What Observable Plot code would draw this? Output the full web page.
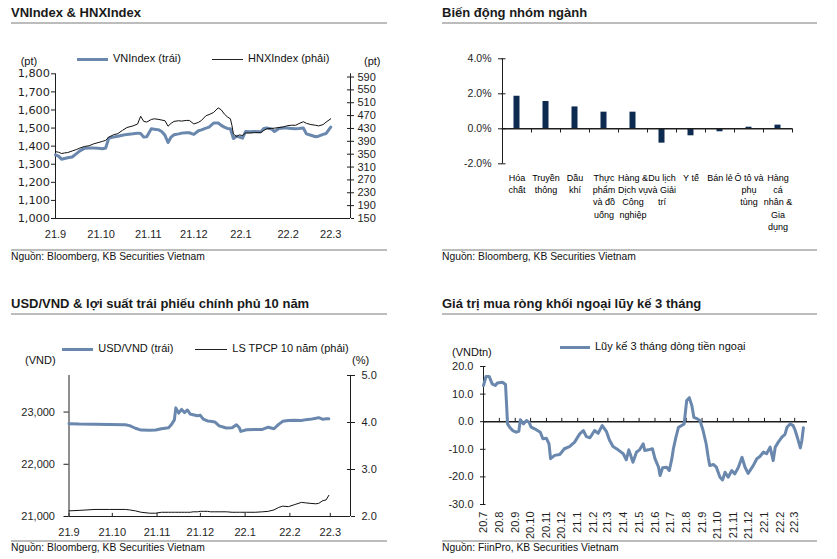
<!DOCTYPE html>
<html><head><meta charset="utf-8">
<script src="https://cdn.jsdelivr.net/npm/d3@7"></script>
<script src="https://cdn.jsdelivr.net/npm/@observablehq/plot@0.6"></script>
<style>
body{margin:0;background:#fff;}
#root{position:relative;width:837px;height:559px;overflow:hidden;font-family:"Liberation Sans",Arial,sans-serif;color:#000;}
.abs{position:absolute;white-space:nowrap;line-height:1;}
.title{font-weight:bold;font-size:13px;color:#1a1a1a;}
.src{font-size:10.3px;color:#111;}
.lg{font-size:11px;color:#111;}
</style></head><body><div id="root"></div>
<script>
// ---------- Panel 1: VNIndex & HNXIndex ----------
const p1Dates = ["2021-09-01","2021-09-03","2021-09-05","2021-09-07","2021-09-09","2021-09-12","2021-09-15","2021-09-17","2021-09-20","2021-09-23","2021-09-26","2021-09-29","2021-10-02","2021-10-04","2021-10-06","2021-10-09","2021-10-12","2021-10-15","2021-10-18","2021-10-22","2021-10-25","2021-10-27","2021-10-29","2021-10-31","2021-11-03","2021-11-05","2021-11-08","2021-11-10","2021-11-12","2021-11-14","2021-11-16","2021-11-18","2021-11-21","2021-11-23","2021-11-26","2021-11-28","2021-12-01","2021-12-04","2021-12-06","2021-12-09","2021-12-11","2021-12-14","2021-12-17","2021-12-19","2021-12-21","2021-12-23","2021-12-25","2021-12-26","2021-12-27","2021-12-29","2021-12-31","2022-01-02","2022-01-04","2022-01-07","2022-01-10","2022-01-14","2022-01-16","2022-01-18","2022-01-21","2022-01-23","2022-01-26","2022-01-29","2022-01-31","2022-02-03","2022-02-06","2022-02-08","2022-02-11","2022-02-13","2022-02-16","2022-02-19","2022-02-21","2022-02-24","2022-02-26","2022-03-01"];
const vnIndex = [1352,1345,1328,1332,1336,1340,1360,1374,1388,1390,1390,1388,1386,1390,1444,1450,1455,1460,1465,1468,1472,1470,1450,1452,1496,1494,1490,1480,1460,1420,1450,1463,1468,1472,1474,1474,1465,1485,1490,1500,1505,1528,1528,1515,1505,1498,1496,1470,1442,1455,1450,1444,1481,1480,1481,1480,1498,1501,1495,1481,1498,1500,1500,1498,1496,1497,1500,1468,1460,1452,1455,1465,1470,1505];
const hnxIndex = [358,356,352,354,355,360,365,369,374,376,382,386,390,393,403,410,414,424,433,438,444,468,452,450,458,460,458,456,454,437,446,452,454,453,455,455,444,449,455,470,473,480,494,488,475,466,460,440,413,405,410,408,416,416,417,417,424,429,430,431,433,435,438,440,440,445,451,446,442,440,438,442,450,460];
const p1TickDates = ["2021-09-01","2021-10-01","2021-11-01","2021-12-01","2022-01-01","2022-02-01","2022-03-01"];
const p1TickLabels = ["21.9","21.10","21.11","21.12","22.1","22.2","22.3"];
const vnTicks = [1000,1100,1200,1300,1400,1500,1600,1700,1800];
const hnxTicks = [150,190,230,270,310,350,390,430,470,510,550,590];

// ---------- Panel 2: Biến động nhóm ngành ----------
const sectors = ["Hóa chất","Truyền thông","Dầu khí","Thực phẩm và đồ uống","Hàng & Dịch vụ Công nghiệp","Du lịch và Giải trí","Y tế","Bán lẻ","Ô tô và phụ tùng","Hàng cá nhân & Gia dụng"];
const sectorLabels = ["Hóa\nchất","Truyền\nthông","Dầu\nkhí","Thực\nphẩm\nvà đồ\nuống","Hàng &\nDịch vụ\nCông\nnghiệp","Du lịch\nvà Giải\ntrí","Y tế","Bán lẻ","Ô tô và\nphụ\ntùng","Hàng\ncá\nnhân &\nGia\ndụng"];
const sectorChange = [1.86,1.56,1.25,0.95,0.95,-0.82,-0.40,-0.17,0.09,0.21];
const sectorTicks = [-2,0,2,4];

// ---------- Panel 3: USD/VND & 10Y bond yield ----------
const p3Dates = ["2021-09-01","2021-09-08","2021-09-19","2021-09-29","2021-10-10","2021-10-13","2021-10-17","2021-10-21","2021-10-27","2021-10-31","2021-11-04","2021-11-09","2021-11-11","2021-11-13","2021-11-14","2021-11-16","2021-11-18","2021-11-20","2021-11-22","2021-11-24","2021-11-26","2021-11-29","2021-12-01","2021-12-03","2021-12-06","2021-12-08","2021-12-11","2021-12-14","2021-12-19","2021-12-23","2021-12-26","2021-12-28","2021-12-29","2022-01-02","2022-01-08","2022-01-13","2022-01-17","2022-01-21","2022-01-24","2022-01-27","2022-01-31","2022-02-04","2022-02-09","2022-02-12","2022-02-15","2022-02-19","2022-02-21","2022-02-24","2022-02-26","2022-02-28"];
const usdVnd = [22778,22770,22765,22760,22758,22740,22690,22655,22650,22655,22680,22700,22760,22850,23080,22980,23050,22990,23040,22960,22950,22930,22937,22865,22830,22822,22810,22735,22694,22700,22758,22700,22630,22660,22668,22668,22710,22680,22760,22822,22840,22845,22840,22855,22860,22880,22893,22860,22870,22870];
const bond10y = [2.12,2.13,2.15,2.15,2.15,2.14,2.12,2.09,2.07,2.07,2.09,2.09,2.09,2.09,2.09,2.09,2.09,2.09,2.09,2.09,2.10,2.10,2.11,2.11,2.11,2.10,2.10,2.10,2.10,2.09,2.09,2.09,2.09,2.09,2.09,2.10,2.11,2.14,2.19,2.22,2.21,2.25,2.30,2.29,2.28,2.27,2.28,2.34,2.35,2.45];
const p3TickDates = p1TickDates;
const p3TickLabels = p1TickLabels;
const usdTicks = [21000,22000,23000];
const bondTicks = [2,3,4,5];

// ---------- Panel 4: foreign net buying, 3-month cumulative ----------
const p4Dates = ["2020-07-01","2020-07-06","2020-07-12","2020-07-18","2020-07-24","2020-07-28","2020-08-07","2020-08-13","2020-08-15","2020-08-17","2020-08-21","2020-08-27","2020-09-03","2020-09-08","2020-09-11","2020-09-17","2020-09-23","2020-09-28","2020-10-02","2020-10-12","2020-10-20","2020-10-25","2020-11-01","2020-11-06","2020-11-09","2020-11-17","2020-11-27","2020-12-06","2020-12-16","2020-12-26","2021-01-05","2021-01-12","2021-01-18","2021-01-25","2021-02-03","2021-02-10","2021-02-18","2021-02-26","2021-03-04","2021-03-11","2021-03-21","2021-03-31","2021-04-06","2021-04-11","2021-04-19","2021-04-26","2021-05-02","2021-05-09","2021-05-12","2021-05-19","2021-05-27","2021-06-01","2021-06-08","2021-06-11","2021-06-16","2021-06-24","2021-06-29","2021-07-04","2021-07-07","2021-07-12","2021-07-17","2021-07-23","2021-07-28","2021-08-02","2021-08-07","2021-08-12","2021-08-16","2021-08-23","2021-08-28","2021-09-03","2021-09-09","2021-09-13","2021-09-16","2021-09-23","2021-09-29","2021-10-06","2021-10-11","2021-10-16","2021-10-22","2021-10-29","2021-11-04","2021-11-11","2021-11-18","2021-11-24","2021-11-30","2021-12-10","2021-12-17","2021-12-23","2021-12-30","2022-01-05","2022-01-12","2022-01-18","2022-01-22","2022-01-28","2022-02-04","2022-02-10","2022-02-14","2022-02-20","2022-02-26","2022-03-02","2022-03-07","2022-03-12","2022-03-15","2022-03-18"];
const foreignFlow = [13.1,16.4,16.4,13.7,13.1,14.0,14.3,13.5,6.5,-0.8,-2.0,-3.2,-3.8,-3.5,0.7,-0.8,0.4,-0.2,-2.0,-2.9,-3.8,-6.2,-6.0,-8.0,-13.4,-12.2,-11.9,-9.8,-9.0,-7.4,-4.4,-3.2,-5.4,-5.8,-3.2,-4.2,-1.4,-3.5,-6.6,-9.0,-10.2,-11.6,-13.8,-10.2,-14.7,-11.0,-10.2,-8.0,-10.4,-10.2,-9.8,-13.4,-16.5,-19.5,-16.7,-16.5,-17.7,-13.4,-9.8,-5.6,-2.0,-1.4,-0.8,7.7,8.7,5.9,1.6,1.0,0.4,-3.2,-8.0,-12.9,-15.9,-15.5,-16.5,-20.1,-21.1,-18.3,-20.1,-17.7,-18.9,-16.5,-12.9,-16.5,-18.7,-15.9,-13.4,-12.6,-11.0,-11.6,-9.2,-14.1,-9.2,-7.4,-5.6,-4.6,-2.0,-0.8,-1.4,-3.2,-6.2,-9.5,-6.8,-2.2];
const p4TickDates = ["2020-07-01","2020-08-01","2020-09-01","2020-10-01","2020-11-01","2020-12-01","2021-01-01","2021-02-01","2021-03-01","2021-04-01","2021-05-01","2021-06-01","2021-07-01","2021-08-01","2021-09-01","2021-10-01","2021-11-01","2021-12-01","2022-01-01","2022-02-01","2022-03-01"];
const p4TickLabels = ["20.7","20.8","20.9","20.10","20.11","20.12","21.1","21.2","21.3","21.4","21.5","21.6","21.7","21.8","21.9","21.10","21.11","21.12","22.1","22.2","22.3"];
const flowTicks = [-30,-20,-10,0,10,20];

// ---------- helpers ----------
const parse = d3.utcParse("%Y-%m-%d");
const iso = d3.utcFormat("%Y-%m-%d");
const root = document.getElementById("root");
const BLUE = "#6a87ae", NAVY = "#0d2b50", AX = "#1e1e1e", RULE = "#bcbcbc";
const font = "'Liberation Sans', Arial, sans-serif";
const baseStyle = {background: "transparent", fontFamily: font, fontSize: "11px", color: AX, overflow: "visible"};
function labelFmt(dates, labels) { const m = new Map(dates.map((d, i) => [d, labels[i]])); return d => m.get(iso(d)) ?? ""; }
function addText(str, x, y, cls) { const d = document.createElement("div"); d.className = "abs " + cls; d.textContent = str; d.style.left = x + "px"; d.style.top = y + "px"; root.append(d); return d; }
function addBox(x, y, w, h, color) { const d = document.createElement("div"); Object.assign(d.style, {position: "absolute", left: x + "px", top: y + "px", width: w + "px", height: h + "px", background: color}); root.append(d); }
function addSvg(svg, x, y) { svg.style.position = "absolute"; svg.style.left = x + "px"; svg.style.top = y + "px"; root.append(svg); }

// ---------- frames, titles, sources ----------
addText("VNIndex & HNXIndex", 11, 5.7, "title");
addText("Biến động nhóm ngành", 442, 5.7, "title");
addText("USD/VND & lợi suất trái phiếu chính phủ 10 năm", 11, 296.7, "title");
addText("Giá trị mua ròng khối ngoại lũy kế 3 tháng", 442, 296.7, "title");
addBox(11, 22, 376, 2, RULE); addBox(442, 22, 375, 2, RULE);
addBox(11, 313, 376, 2, RULE); addBox(442, 313, 375, 2, RULE);
addBox(11, 248.5, 376, 2, RULE); addBox(442, 248.5, 375, 2, RULE);
addBox(11, 540, 376, 2, RULE); addBox(442, 540, 375, 2, RULE);
addText("Nguồn: Bloomberg, KB Securities Vietnam", 11, 252, "src");
addText("Nguồn: Bloomberg, KB Securities Vietnam", 442, 252, "src");
addText("Nguồn: Bloomberg, KB Securities Vietnam", 11, 542.8, "src");
addText("Nguồn: FiinPro, KB Securities Vietnam", 442, 542.8, "src");

// ---------- Panel 1 ----------
{
  const data = p1Dates.map((d, i) => ({date: parse(d), vn: vnIndex[i], hnx: hnxIndex[i]}));
  const xdom = [parse("2021-09-01"), parse("2022-03-14")];
  const W = 400, H = 185, mL = 55, mR = 50, mT = 13.3, mB = 27;
  const left = Plot.plot({
    width: W, height: H, marginLeft: mL, marginRight: mR, marginTop: mT, marginBottom: mB,
    style: {...baseStyle, fontFamily: "'DejaVu Sans', Verdana, sans-serif", fontSize: "11.3px"},
    x: {type: "utc", domain: xdom, axis: null},
    y: {domain: [1000, 1800], ticks: vnTicks, tickFormat: d3.format(","), tickSize: 4, tickPadding: 1.5, label: null},
    marks: [
      Plot.ruleX([xdom[0]], {stroke: AX}),
      Plot.ruleY([1000], {stroke: AX}),
      Plot.lineY(data, {x: "date", y: "vn", stroke: BLUE, strokeWidth: 3})
    ]
  });
  const right = Plot.plot({
    width: W, height: H, marginLeft: mL, marginRight: mR, marginTop: mT, marginBottom: mB, style: baseStyle,
    x: {type: "utc", domain: xdom, ticks: p1TickDates.map(parse), tickFormat: labelFmt(p1TickDates, p1TickLabels), tickSize: 0, tickPadding: 12, label: null},
    y: {domain: [150, 600], axis: "right", ticks: hnxTicks, tickSize: 3, tickPadding: 4, label: null},
    marks: [
      Plot.ruleX([xdom[1]], {stroke: AX}),
      Plot.ruleY(hnxTicks, {stroke: AX, insetLeft: W - mL - mR - 3}),
      Plot.lineY(data, {x: "date", y: "hnx", stroke: "#111", strokeWidth: 1})
    ]
  });
  addSvg(left, 0, 60); addSvg(right, 0, 60);
  addBox(77, 58, 31, 3, BLUE); addText("VNIndex (trái)", 113, 53.4, "lg");
  addBox(212, 59, 31, 1, "#222"); addText("HNXIndex (phải)", 248, 53.4, "lg");
  addText("(pt)", 20.7, 55.7, "lg"); addText("(pt)", 364, 55.7, "lg");
}

// ---------- Panel 2 ----------
{
  const data = sectors.map((s, i) => ({s, v: sectorChange[i]}));
  const W = 400, H = 200, mL = 82, mR = 28, mT = 13.3, mB = 81.7;
  const chart = Plot.plot({
    width: W, height: H, marginLeft: mL, marginRight: mR, marginTop: mT, marginBottom: mB, style: {...baseStyle, fontSize: "10.5px"},
    x: {type: "band", domain: sectors, padding: 0, axis: null},
    y: {domain: [-2, 4], ticks: sectorTicks, tickFormat: d => d.toFixed(1) + "%", tickSize: 4, tickPadding: 7, label: null},
    marks: [
      Plot.ruleX([sectors[0]], {dx: -14.5, stroke: AX}),
      Plot.ruleY(sectorTicks, {stroke: AX, insetLeft: -0.5, insetRight: W - mL - mR - 3.5}),
      Plot.barY(data, {x: "s", y: "v", fill: NAVY, insetLeft: 11.5, insetRight: 11.5}),
      Plot.ruleY([0], {stroke: AX, strokeWidth: 1.6}),
      Plot.ruleX(sectors, {x: d => d, y1: 0, y2: -0.24, dx: 14.5, stroke: AX}),
      Plot.text(sectors, {x: d => d, text: (d, i) => sectorLabels[i], frameAnchor: "bottom", lineAnchor: "top", dy: 9, fontSize: 9, lineHeight: 1.34, fill: "#000"})
    ]
  });
  addSvg(chart, 420, 45);
}

// ---------- Panel 3 ----------
{
  const data = p3Dates.map((d, i) => ({date: parse(d), usd: usdVnd[i], bond: bond10y[i]}));
  const xdom = [parse("2021-09-01"), parse("2022-03-15")];
  const W = 400, H = 175, mL = 68.5, mR = 50, mT = 10, mB = 24;
  const left = Plot.plot({
    width: W, height: H, marginLeft: mL, marginRight: mR, marginTop: mT, marginBottom: mB, style: baseStyle,
    x: {type: "utc", domain: xdom, ticks: p3TickDates.map(parse), tickFormat: labelFmt(p3TickDates, p3TickLabels), tickSize: 0, tickPadding: 12, label: null},
    y: {domain: [21000, 23700], ticks: usdTicks, tickFormat: d3.format(","), tickSize: 5, tickPadding: 9, label: null},
    marks: [
      Plot.ruleX([xdom[0]], {stroke: AX}),
      Plot.ruleY([21000], {stroke: AX}),
      Plot.ruleX(p3TickDates.map(parse), {y1: 21000, y2: 21060, stroke: AX}),
      Plot.lineY(data, {x: "date", y: "usd", stroke: BLUE, strokeWidth: 3})
    ]
  });
  const right = Plot.plot({
    width: W, height: H, marginLeft: mL, marginRight: mR, marginTop: mT, marginBottom: mB, style: baseStyle,
    x: {type: "utc", domain: xdom, axis: null},
    y: {domain: [2, 5], axis: "right", ticks: bondTicks, tickFormat: d => d.toFixed(1), tickSize: 4, tickPadding: 7, label: null},
    marks: [
      Plot.ruleX([xdom[1]], {stroke: AX}),
      Plot.ruleY(bondTicks, {stroke: AX, insetLeft: W - mL - mR - 3}),
      Plot.lineY(data, {x: "date", y: "bond", stroke: "#111", strokeWidth: 1})
    ]
  });
  addSvg(left, 0, 365); addSvg(right, 0, 365);
  addBox(62, 347.5, 31, 3, BLUE); addText("USD/VND (trái)", 98.3, 343.4, "lg");
  addBox(195, 349, 32, 1, "#222"); addText("LS TPCP 10 năm (phải)", 232.3, 343.4, "lg");
  addText("(VND)", 25, 354.7, "lg"); addText("(%)", 352, 354.7, "lg");
}

// ---------- Panel 4 ----------
{
  const data = p4Dates.map((d, i) => ({date: parse(d), v: foreignFlow[i]}));
  const xdom = [parse("2020-07-01"), parse("2022-03-26")];
  const W = 400, H = 200, mL = 63, mR = 13, mT = 11, mB = 51;
  const chart = Plot.plot({
    width: W, height: H, marginLeft: mL, marginRight: mR, marginTop: mT, marginBottom: mB, style: baseStyle,
    x: {type: "utc", domain: xdom, ticks: p4TickDates.map(parse), tickFormat: labelFmt(p4TickDates, p4TickLabels), tickRotate: -90, tickSize: 0, tickPadding: 7, label: null},
    y: {domain: [-30, 20], ticks: flowTicks, tickFormat: d => d.toFixed(1), tickSize: 3, tickPadding: 7, label: null},
    marks: [
      Plot.ruleX([xdom[0]], {stroke: AX}),
      Plot.ruleY(flowTicks, {stroke: AX, insetLeft: 0, insetRight: W - mL - mR - 2.5}),
      Plot.ruleY([0], {stroke: AX, strokeWidth: 1.6}),
      Plot.ruleX(p4TickDates.map(parse), {y1: 0, y2: 1.2, stroke: AX}),
      Plot.lineY(data, {x: "date", y: "v", stroke: BLUE, strokeWidth: 3})
    ]
  });
  addSvg(chart, 420, 355);
  addBox(560, 345.5, 30, 3, BLUE); addText("Lũy kế 3 tháng dòng tiền ngoại", 595, 341.4, "lg");
  addText("(VNDtn)", 452, 346.7, "lg");
}
</script></body></html>
